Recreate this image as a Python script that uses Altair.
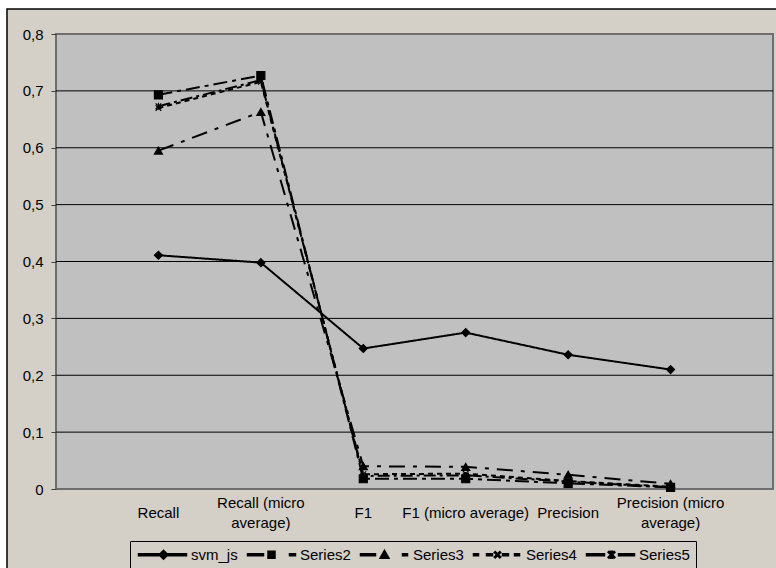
import math

import altair as alt
import pandas as pd

# Evaluation metrics on the x axis
categories = [
    "Recall",
    "Recall (micro average)",
    "F1",
    "F1 (micro average)",
    "Precision",
    "Precision (micro average)",
]

series_names = ["svm_js", "Series2", "Series3", "Series4", "Series5"]

svm_js = [0.411, 0.398, 0.247, 0.275, 0.236, 0.210]
series2 = [0.693, 0.727, 0.018, 0.018, 0.010, 0.003]
series3 = [0.595, 0.663, 0.040, 0.039, 0.025, 0.009]
series4 = [0.670, 0.716, 0.026, 0.027, 0.014, 0.004]
series5 = [0.673, 0.719, 0.023, 0.024, 0.013, 0.003]

y_ticks = [0.0, 0.1, 0.2, 0.3, 0.4, 0.5, 0.6, 0.7, 0.8]
grid_values = [0.1, 0.2, 0.3, 0.4, 0.5, 0.6, 0.7]

rows = []
for name, vals in zip(series_names, [svm_js, series2, series3, series4, series5]):
    for i, (cat, v) in enumerate(zip(categories, vals)):
        rows.append({"series": name, "metric": cat, "idx": i, "value": v})
df = pd.DataFrame(rows)
grid_df = pd.DataFrame({"value": grid_values})
cat_df = pd.DataFrame({"metric": categories})

W, H = 717, 455
FONT = "Liberation Sans"

# dash patterns and markers per series
dashes = [[1, 0], [14, 5, 4, 5], [16, 8, 4, 8], [5, 4], [12, 4, 3, 4]]
x_path = "M-0.7,-0.7L0.7,0.7M-0.7,0.7L0.7,-0.7"
star_path = "M-0.7,-0.7L0.7,0.7M-0.7,0.7L0.7,-0.7M0,-0.85V0.85"
plot_shapes = ["diamond", "square", "triangle-up", x_path, star_path]


# ---- legend glyphs, built as filled outlines (5 px per unit, glyph box 10 px) ----
def u(px):
    return round((px - 5) / 5, 3)


def seg(p0, p1, t=0.2):
    return f"M{u(p0)},{-t}H{u(p1)}V{t}H{u(p0)}Z"


def bar(x0, y0, x1, y1, t=0.14):
    dx, dy = x1 - x0, y1 - y0
    n = math.hypot(dx, dy)
    nx, ny = -dy / n * t, dx / n * t
    pts = [(x0 + nx, y0 + ny), (x1 + nx, y1 + ny), (x1 - nx, y1 - ny), (x0 - nx, y0 - ny)]
    return "M" + "L".join(f"{round(a, 3)},{round(b, 3)}" for a, b in pts) + "Z"


def diamond(c, r=0.9):
    c = u(c)
    return f"M{c - r},0L{c},{-r}L{c + r},0L{c},{r}Z"


def square(c, r=0.7):
    c = u(c)
    return f"M{c - r},{-r}H{c + r}V{r}H{c - r}Z"


def triangle(c, r=0.9):
    c = u(c)
    return f"M{c},{-r}L{c + r},{0.8 * r}L{c - r},{0.8 * r}Z"


def cross_at(c, r):
    return bar(c - r, -r, c + r, r) + bar(c - r, r, c + r, -r)


def cross(c, r=0.55):
    return cross_at(u(c), r)


def asterisk(c, r=0.6):
    c = u(c)
    return cross_at(c, r) + bar(c, -r - 0.1, c, r + 0.1)


legend_shapes = [
    seg(0, 48) + diamond(25),
    seg(0, 16) + square(24) + seg(42, 48),
    seg(0, 15) + triangle(24) + seg(42, 47),
    seg(0, 5) + seg(13, 19) + cross(24) + seg(29, 35) + seg(41, 46),
    seg(0, 18) + asterisk(25) + seg(32, 48),
]

x_scale = alt.Scale(type="point", domain=categories, padding=1)
x_enc = alt.X("metric:N", sort=categories, scale=x_scale, axis=None)

y_scale = alt.Scale(domain=[0, 0.8], nice=False, zero=True)
y_axis = alt.Axis(
    title=None,
    values=y_ticks,
    labelExpr="replace(format(datum.value, '.1~f'), '.', ',')",
    labelFont=FONT,
    labelFontSize=15,
    labelColor="black",
    labelPadding=8,
    tickSize=5,
    tickColor="#404040",
    domain=False,
    grid=False,
    zindex=1,
)
y_enc = alt.Y("value:Q", scale=y_scale, axis=y_axis)

one_row = alt.Data(values=[{}])

frame = alt.Chart(one_row).mark_rect(
    fill="#d4d0c8", stroke="black", strokeWidth=1.5
).encode(
    x=alt.value(-49), x2=alt.value(W + 20), y=alt.value(-25), y2=alt.value(H + 100)
)

plot_bg = alt.Chart(one_row).mark_rect(
    fill="#c0c0c0", stroke="#6e6e6e", strokeWidth=2
).encode(
    x=alt.value(0), x2=alt.value(W), y=alt.value(0), y2=alt.value(H)
)

grid = alt.Chart(grid_df).mark_rule(color="black", strokeWidth=1).encode(y=y_enc)

# category labels under the plot; long ones wrap onto two lines
wrap_expr = "length(datum.metric) > 20 ? [replace(datum.metric, ' average)', ''), 'average)'] : datum.metric"
label_base = alt.Chart(cat_df).transform_calculate(lab=wrap_expr)
labels_two = label_base.transform_filter("length(datum.metric) > 20").mark_text(
    font=FONT, fontSize=15, color="black", baseline="middle", lineHeight=20
).encode(x=x_enc, y=alt.value(H + 14), text="lab:N")
labels_one = label_base.transform_filter("length(datum.metric) <= 20").mark_text(
    font=FONT, fontSize=15, color="black", baseline="middle"
).encode(x=x_enc, y=alt.value(H + 24), text="lab:N")

lines = alt.Chart(df).mark_line(color="black", strokeWidth=2).encode(
    x=x_enc,
    y=y_enc,
    order=alt.Order("idx:Q"),
    strokeDash=alt.StrokeDash(
        "series:N",
        scale=alt.Scale(domain=series_names, range=dashes),
        legend=None,
    ),
)

points = alt.Chart(df).mark_point(
    filled=True, fill="black", stroke="black", strokeWidth=1.2, opacity=1, size=64
).encode(
    x=x_enc,
    y=y_enc,
    shape=alt.Shape(
        "series:N",
        scale=alt.Scale(domain=series_names, range=plot_shapes),
        legend=None,
    ),
)

legend_layer = alt.Chart(df).transform_filter("false").mark_point(
    filled=False, color="black", fill="black", stroke="black",
    strokeWidth=0, opacity=1, size=100
).encode(
    x=x_enc,
    y=y_enc,
    shape=alt.Shape(
        "series:N",
        scale=alt.Scale(domain=series_names, range=legend_shapes),
        legend=alt.Legend(
            title=None,
            orient="none",
            legendX=74,
            legendY=507,
            direction="horizontal",
            columns=5,
            columnPadding=6,
            labelOffset=40,
            padding=6,
            symbolSize=100,
            symbolFillColor="black",
            symbolOpacity=1,
            labelFont=FONT,
            labelFontSize=15,
            labelColor="black",
            labelBaseline="middle",
            strokeColor="black",
            fillColor="#d4d0c8",
        ),
    ),
)

chart = (
    alt.layer(frame, plot_bg, grid, labels_two, labels_one, lines, points, legend_layer)
    .resolve_scale(shape="independent", strokeDash="independent")
    .properties(
        width=W,
        height=H,
        background="white",
        padding={"left": 56, "top": 34, "right": 3, "bottom": 79},
        autosize=alt.AutoSizeParams(type="none"),
    )
    .configure_view(strokeWidth=0)
)

chart.save("out.html", embed_options={"renderer": "svg", "actions": False})
